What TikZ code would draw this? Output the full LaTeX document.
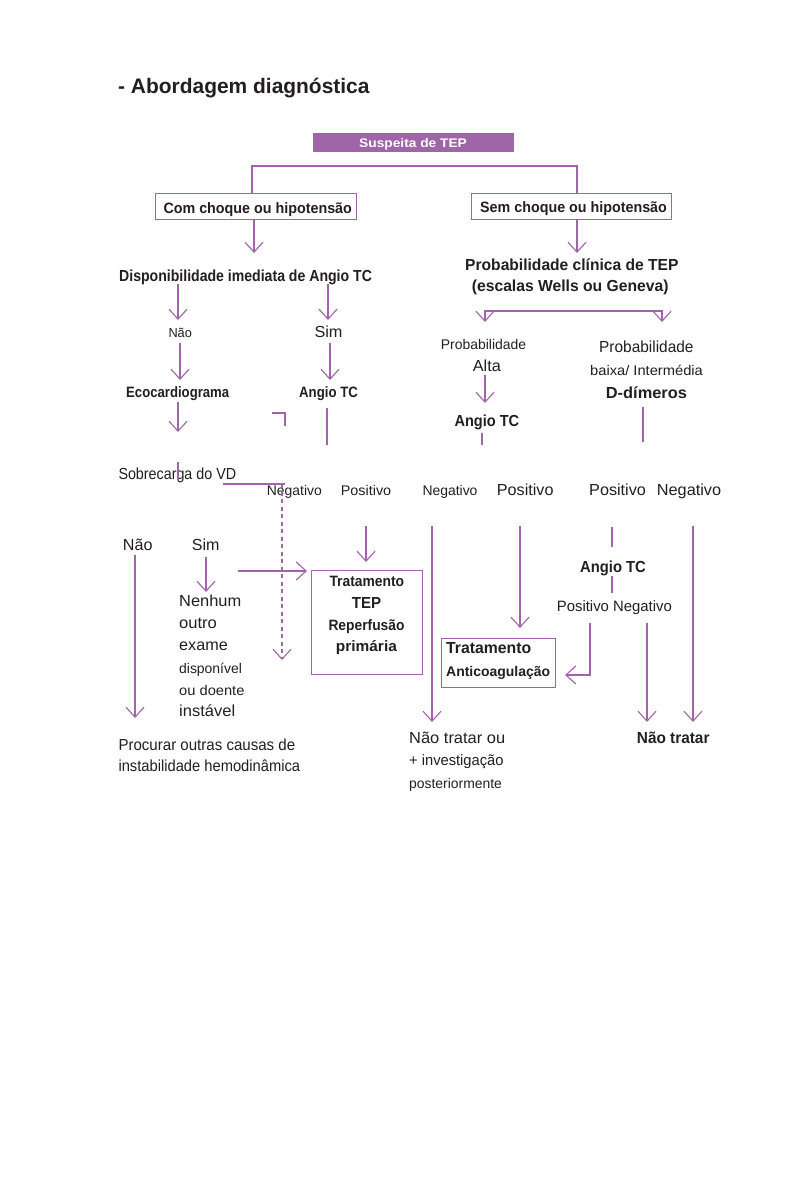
\documentclass[tikz,border=0pt]{standalone}
\usepackage{fontspec}
\setmainfont{Liberation Sans}
\usepackage{graphicx}
\usetikzlibrary{arrows.meta}
\definecolor{ink}{RGB}{35,31,32}
\definecolor{pur}{RGB}{160,100,168}
\newcommand\fw[2]{\resizebox{#1pt}{\height}{#2}}
\tikzset{
  txt/.style={inner sep=0pt, anchor=base west, text=ink},
  r12/.style={txt, font=\fontsize{13}{15}\selectfont},
  r13/.style={txt, font=\fontsize{14}{16}\selectfont},
  r14/.style={txt, font=\fontsize{15}{17}\selectfont},
  r15/.style={txt, font=\fontsize{16}{18}\selectfont},
  b12/.style={txt, font=\fontsize{12.5}{14}\selectfont\bfseries},
  b13/.style={txt, font=\fontsize{14}{16}\selectfont\bfseries},
  b14/.style={txt, font=\fontsize{15}{17}\selectfont\bfseries},
  b15/.style={txt, font=\fontsize{16}{18}\selectfont\bfseries},
  b20/.style={txt, font=\fontsize{21}{24}\selectfont\bfseries},
  conn/.style={draw=pur, line width=1.1pt},
  arr/.style={conn, -{Straight Barb[length=10pt,width=18pt]}},
  frame/.style={draw=pur, line width=1.1pt, inner sep=0pt, anchor=north west},
}
\begin{document}
\begin{tikzpicture}[x=1pt,y=-1pt]
\useasboundingbox (0,0) rectangle (788,1182);
\fill[white] (0,0) rectangle (788,1182);

% title
\node[b20] (title) at (118,94) {\fw{251.3}{- Abordagem diagnóstica}};

% top box
\node[fill=pur, inner sep=0pt, anchor=north west, minimum width=201pt, minimum height=19pt] (susp) at (313,133) {};
\node[b12, text=white] (susptxt) at (359,147.7) {\fw{107.7}{Suspeita de TEP}};

% level 1 boxes
\node[frame, minimum width=201pt, minimum height=26pt] (com) at (155,193) {};
\node[b14] (comtxt) at (163.3,213.3) {\fw{188.4}{Com choque ou hipotensão}};
\node[frame, minimum width=200pt, minimum height=26pt] (sem) at (471,193) {};
\node[b14] (semtxt) at (480,212.7) {\fw{186.7}{Sem choque ou hipotensão}};

\coordinate (bl) at (252,166);
\coordinate (br) at (577,166);
\draw[conn] (bl |- com.north) -- (bl) -- (br) -- (br |- sem.north);

% left branch texts
\node[b15] (disp) at (119,281) {\fw{252.7}{Disponibilidade imediata de Angio TC}};
\node[r12] (nao1) at (168.3,337.3) {\fw{23.4}{Não}};
\node[r15] (sim1) at (314.3,337.7) {\fw{28}{Sim}};
\node[b14] (eco) at (126,397.3) {\fw{103}{Ecocardiograma}};
\node[b14] (angio1) at (299,397) {\fw{58.7}{Angio TC}};
\node[r15] (sobre) at (118.3,479.3) {\fw{117.7}{Sobrecarga do VD}};
\node[r13] (neg1) at (266.7,495) {\fw{55}{Negativo}};
\node[r13] (pos1) at (340.7,495) {\fw{50.3}{Positivo}};

% right branch texts
\node[b15] (prob1) at (465,270) {\fw{213.3}{Probabilidade clínica de TEP}};
\node[b15] (prob2) at (471.7,291.7) {\fw{196.6}{(escalas Wells ou Geneva)}};
\node[r13] (probA) at (440.7,349.3) {\fw{85.3}{Probabilidade}};
\node[r15] (alta) at (472.7,371.7) {\fw{28}{Alta}};
\node[b15] (angio2) at (454.3,426.7) {\fw{64.7}{Angio TC}};
\node[r15] (probB) at (599,352.3) {\fw{94.3}{Probabilidade}};
\node[r13] (baixa) at (590,375) {\fw{112.7}{baixa/ Intermédia}};
\node[b15] (ddim) at (605.7,398.3) {\fw{81}{D-dímeros}};
\node[r13] (neg2) at (422.3,495) {\fw{55}{Negativo}};
\node[r15] (pos2) at (496.7,495) {\fw{56.6}{Positivo}};
\node[r15] (pos3) at (589,495) {\fw{56.7}{Positivo}};
\node[r15] (neg3) at (656.7,495) {\fw{64.3}{Negativo}};

% row 2 left
\node[r15] (nao2) at (122.7,550.7) {\fw{29.6}{Não}};
\node[r15] (sim2) at (191.7,550.7) {\fw{27.6}{Sim}};
\node[r15] (nenhum) at (179,606.7) {\fw{62}{Nenhum}};
\node[r15] (outro) at (179,628.3) {\fw{37.7}{outro}};
\node[r15] (exame) at (179,650) {\fw{48.7}{exame}};
\node[r13] (dispon) at (179,673.3) {\fw{62.7}{disponível}};
\node[r13] (oudoente) at (179,695) {\fw{65.3}{ou doente}};
\node[r15] (instavel) at (179,716.7) {\fw{56}{instável}};
\node[r15] (proc1) at (118.3,750.7) {\fw{176.7}{Procurar outras causas de}};
\node[r15] (proc2) at (118.3,771.7) {\fw{181.7}{instabilidade hemodinâmica}};

% treatment box
\node[frame, minimum width=111pt, minimum height=104.3pt] (trbox) at (310.7,570) {};
\node[b14] (trat1) at (329.3,586) {\fw{74.7}{Tratamento}};
\node[b15] (tep) at (351.7,608.3) {\fw{29.3}{TEP}};
\node[b14] (reperf) at (328.3,630) {\fw{76}{Reperfusão}};
\node[b14] (prim) at (335.7,651.7) {\fw{61}{primária}};

% row 2 right
\node[b15] (angio3) at (580,572.7) {\fw{65.7}{Angio TC}};
\node[r14] (posneg) at (556.7,611.7) {\fw{115}{Positivo Negativo}};
\node[frame, minimum width=114.3pt, minimum height=49pt] (acbox) at (440.7,637.7) {};
\node[b15] (trat2) at (446,653.3) {\fw{85}{Tratamento}};
\node[b13] (antic) at (446,676.7) {\fw{104}{Anticoagulação}};
\node[r15] (naotr1) at (409,743.3) {\fw{96}{Não tratar ou}};
\node[r14] (invest) at (409,765) {\fw{94.3}{+ investigação}};
\node[r13] (poster) at (409,788.3) {\fw{92.7}{posteriormente}};
\node[b15] (naotr2) at (636.7,743.3) {\fw{72.6}{Não tratar}};

% ---- connectors, left ----
\coordinate (c1) at (254,253);
\draw[arr] (com.south -| c1) -- (c1);
\coordinate (c2a) at (178,284); \coordinate (c2b) at (178,320);
\draw[arr] (c2a) -- (c2b);
\coordinate (c3a) at (328,284); \coordinate (c3b) at (328,320);
\draw[arr] (c3a) -- (c3b);
\coordinate (c4a) at (180,343); \coordinate (c4b) at (180,380);
\draw[arr] (c4a) -- (c4b);
\coordinate (c5a) at (330,343); \coordinate (c5b) at (330,380);
\draw[arr] (c5a) -- (c5b);
\coordinate (c6a) at (178,402); \coordinate (c6b) at (178,432);
\draw[arr] (c6a) -- (c6b);
\coordinate (c7a) at (178,462); \coordinate (c7b) at (178,480);
\draw[conn] (c7a) -- (c7b);
\coordinate (c8a) at (223,484); \coordinate (c8b) at (285,484);
\draw[conn] (c8a) -- (c8b);
\coordinate (c9a) at (282,484); \coordinate (c9b) at (282,660);
\draw[arr, dash pattern=on 4pt off 3.5pt] (c9a) -- (c9b);
\coordinate (k1) at (272,413); \coordinate (k2) at (285,413); \coordinate (k3) at (285,426);
\draw[conn] (k1) -- (k2) -- (k3);
\coordinate (c10a) at (327,408); \coordinate (c10b) at (327,445);
\draw[conn] (c10a) -- (c10b);

\coordinate (c11a) at (135,555); \coordinate (c11b) at (135,718);
\draw[arr] (c11a) -- (c11b);
\coordinate (c12a) at (206,557); \coordinate (c12b) at (206,592);
\draw[arr] (c12a) -- (c12b);
\coordinate (c13a) at (238,571); \coordinate (c13b) at (307,571);
\draw[arr] (c13a) -- (c13b);
\coordinate (c14a) at (366,526); \coordinate (c14b) at (366,562);
\draw[arr] (c14a) -- (c14b);

% ---- connectors, right ----
\coordinate (r1) at (577,253);
\draw[arr] (sem.south -| r1) -- (r1);
\coordinate (r2a) at (485,322); \coordinate (r2b) at (485,311);
\coordinate (r2c) at (662,311); \coordinate (r2d) at (662,322);
\draw[conn, {Straight Barb[length=10pt,width=18pt]}-{Straight Barb[length=10pt,width=18pt]}] (r2a) -- (r2b) -- (r2c) -- (r2d);
\coordinate (r3a) at (485,375); \coordinate (r3b) at (485,403);
\draw[arr] (r3a) -- (r3b);
\coordinate (r4a) at (482,433); \coordinate (r4b) at (482,445);
\draw[conn] (r4a) -- (r4b);
\coordinate (r5a) at (643,407); \coordinate (r5b) at (643,442);
\draw[conn] (r5a) -- (r5b);

\coordinate (r6a) at (432,526); \coordinate (r6b) at (432,722);
\draw[arr] (r6a) -- (r6b);
\coordinate (r7a) at (520,526); \coordinate (r7b) at (520,628);
\draw[arr] (r7a) -- (r7b);
\coordinate (r8a) at (612,527); \coordinate (r8b) at (612,547);
\draw[conn] (r8a) -- (r8b);
\coordinate (r9a) at (612,576); \coordinate (r9b) at (612,593);
\draw[conn] (r9a) -- (r9b);
\coordinate (r10a) at (590,623); \coordinate (r10b) at (590,675); \coordinate (r10c) at (565,675);
\draw[arr] (r10a) -- (r10b) -- (r10c);
\coordinate (r11a) at (647,623); \coordinate (r11b) at (647,722);
\draw[arr] (r11a) -- (r11b);
\coordinate (r12a) at (693,526); \coordinate (r12b) at (693,722);
\draw[arr] (r12a) -- (r12b);
\end{tikzpicture}
\end{document}
